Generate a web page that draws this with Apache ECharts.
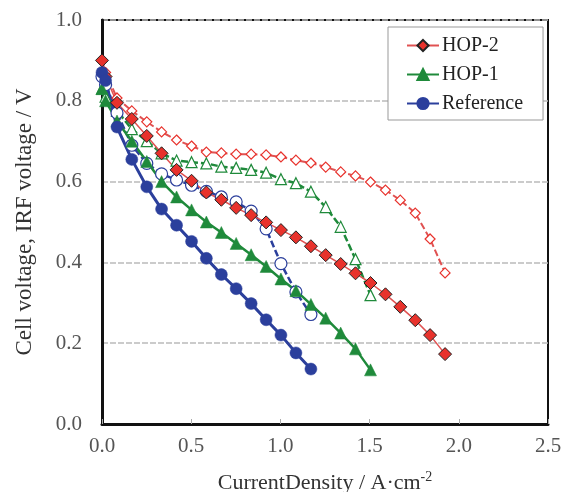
<!DOCTYPE html>
<html>
<head>
<meta charset="utf-8">
<script src="https://cdn.jsdelivr.net/npm/echarts@6/dist/echarts.min.js"></script>
<style>
  html, body { margin: 0; padding: 0; background: #fff; }
  #main { width: 562px; height: 492px; }
</style>
</head>
<body>
<div id="main"></div>
<script>
// current density, A/cm2
var xHop2 = [0, 0.02, 0.084, 0.167, 0.251, 0.334, 0.418, 0.502, 0.585, 0.669, 0.752, 0.836, 0.920, 1.003, 1.087, 1.171, 1.254, 1.338, 1.421, 1.505, 1.589, 1.672, 1.756, 1.839, 1.923];
var xHop1 = [0, 0.02, 0.084, 0.167, 0.251, 0.334, 0.418, 0.502, 0.585, 0.669, 0.752, 0.836, 0.920, 1.003, 1.087, 1.171, 1.254, 1.338, 1.421, 1.505];
var xRef = [0, 0.02, 0.084, 0.167, 0.251, 0.334, 0.418, 0.502, 0.585, 0.669, 0.752, 0.836, 0.920, 1.003, 1.087, 1.171];

// cell voltage (filled) and IRF voltage (open)
var hop2Cell = [0.90, 0.86, 0.795, 0.755, 0.713, 0.67, 0.629, 0.602, 0.573, 0.555, 0.535, 0.517, 0.499, 0.480, 0.462, 0.440, 0.418, 0.396, 0.373, 0.349, 0.321, 0.290, 0.257, 0.220, 0.173];
var hop2Irf = [0.90, 0.87, 0.807, 0.775, 0.748, 0.723, 0.703, 0.688, 0.673, 0.671, 0.668, 0.668, 0.666, 0.661, 0.653, 0.646, 0.636, 0.624, 0.614, 0.599, 0.579, 0.554, 0.522, 0.458, 0.374];
var hop1Cell = [0.83, 0.80, 0.75, 0.70, 0.65, 0.60, 0.562, 0.53, 0.50, 0.474, 0.447, 0.419, 0.390, 0.359, 0.330, 0.296, 0.262, 0.225, 0.186, 0.134];
var hop1Irf = [0.83, 0.81, 0.775, 0.73, 0.70, 0.67, 0.652, 0.648, 0.645, 0.637, 0.634, 0.629, 0.622, 0.606, 0.596, 0.575, 0.537, 0.488, 0.408, 0.319];
var refCell = [0.87, 0.85, 0.735, 0.655, 0.587, 0.532, 0.492, 0.452, 0.41, 0.37, 0.335, 0.298, 0.258, 0.22, 0.176, 0.136];
var refIrf = [0.86, 0.84, 0.77, 0.69, 0.645, 0.619, 0.604, 0.591, 0.576, 0.562, 0.55, 0.527, 0.483, 0.397, 0.327, 0.271];

function pairs(xs, ys) {
  return xs.map(function (x, i) { return [x, ys[i]]; });
}

var serif = 'Liberation Serif';
var red = '#e8322c', redLine = '#e05252', green = '#1f8a3b', blue = '#2b3f9c';

var myChart = echarts.init(document.getElementById('main'));

var option = {
  animation: false,
  textStyle: { fontFamily: serif },
  grid: {
    left: 102, right: 14, top: 20, bottom: 68,
    outerBoundsMode: 'none',
    show: true, borderColor: '#111', borderWidth: 2
  },
  legend: {
    data: ['HOP-2', 'HOP-1', 'Reference'],
    orient: 'vertical',
    left: 388, top: 27,
    backgroundColor: '#fff',
    borderColor: '#999', borderWidth: 1,
    padding: [8, 20, 6, 18],
    itemWidth: 32, itemHeight: 14, itemGap: 8,
    textStyle: { fontFamily: serif, fontSize: 20, lineHeight: 21, color: '#222', padding: [0, 0, 0, -2] }
  },
  xAxis: {
    type: 'value', min: 0, max: 2.5, interval: 0.5,
    name: 'CurrentDensity / A·cm{sup|-2}',
    nameLocation: 'middle', nameGap: 46,
    nameTextStyle: {
      fontFamily: serif, fontSize: 22, color: '#333',
      rich: { sup: { fontFamily: serif, fontSize: 14, color: '#333', verticalAlign: 'top', padding: [0, 0, 12, 0] } }
    },
    axisLine: { show: true, lineStyle: { color: '#111', width: 3 } },
    axisTick: { show: true, inside: true, length: 5, lineStyle: { color: '#aaa' } },
    axisLabel: { fontFamily: serif, fontSize: 21, color: '#555', margin: 12, formatter: function (v) { return v.toFixed(1); } },
    splitLine: { show: false }
  },
  yAxis: {
    type: 'value', min: 0, max: 1, interval: 0.2,
    name: 'Cell voltage, IRF voltage / V',
    nameLocation: 'middle', nameGap: 66,
    nameTextStyle: { fontFamily: serif, fontSize: 23, color: '#333' },
    axisLine: { show: true, lineStyle: { color: '#111', width: 3 } },
    axisTick: { show: false },
    axisLabel: { fontFamily: serif, fontSize: 21, color: '#555', margin: 20, formatter: function (v) { return v.toFixed(1); } },
    splitLine: { show: true, lineStyle: { color: '#bbb', width: 1.5, type: [6, 2] } }
  },
  series: [
    {
      name: 'HOP-2 IRF', type: 'line', data: pairs(xHop2, hop2Irf),
      symbol: 'diamond', symbolSize: 10,
      lineStyle: { color: redLine, width: 2, type: [7, 3] },
      itemStyle: { color: '#fff', borderColor: red, borderWidth: 1.2 }
    },
    {
      name: 'HOP-1 IRF', type: 'line', data: pairs(xHop1, hop1Irf),
      symbol: 'triangle', symbolSize: 11,
      lineStyle: { color: green, width: 2.5, type: [7, 3] },
      itemStyle: { color: '#fff', borderColor: green, borderWidth: 1.2 }
    },
    {
      name: 'Reference IRF', type: 'line', data: pairs(xRef, refIrf),
      symbol: 'circle', symbolSize: 12,
      lineStyle: { color: blue, width: 2.5, type: [7, 3] },
      itemStyle: { color: '#fff', borderColor: blue, borderWidth: 1.2 }
    },
    {
      name: 'HOP-2', type: 'line', data: pairs(xHop2, hop2Cell),
      symbol: 'diamond', symbolSize: 13,
      lineStyle: { color: redLine, width: 1.5 },
      itemStyle: { color: red, borderColor: '#222', borderWidth: 1 }
    },
    {
      name: 'HOP-1', type: 'line', data: pairs(xHop1, hop1Cell),
      symbol: 'triangle', symbolSize: 12,
      lineStyle: { color: green, width: 2.5 },
      itemStyle: { color: green, borderColor: green, borderWidth: 0.5 }
    },
    {
      name: 'Reference', type: 'line', data: pairs(xRef, refCell),
      symbol: 'circle', symbolSize: 12,
      lineStyle: { color: blue, width: 3 },
      itemStyle: { color: blue, borderColor: blue, borderWidth: 0.5 }
    }
  ]
};

myChart.setOption(option);
</script>
</body>
</html>
